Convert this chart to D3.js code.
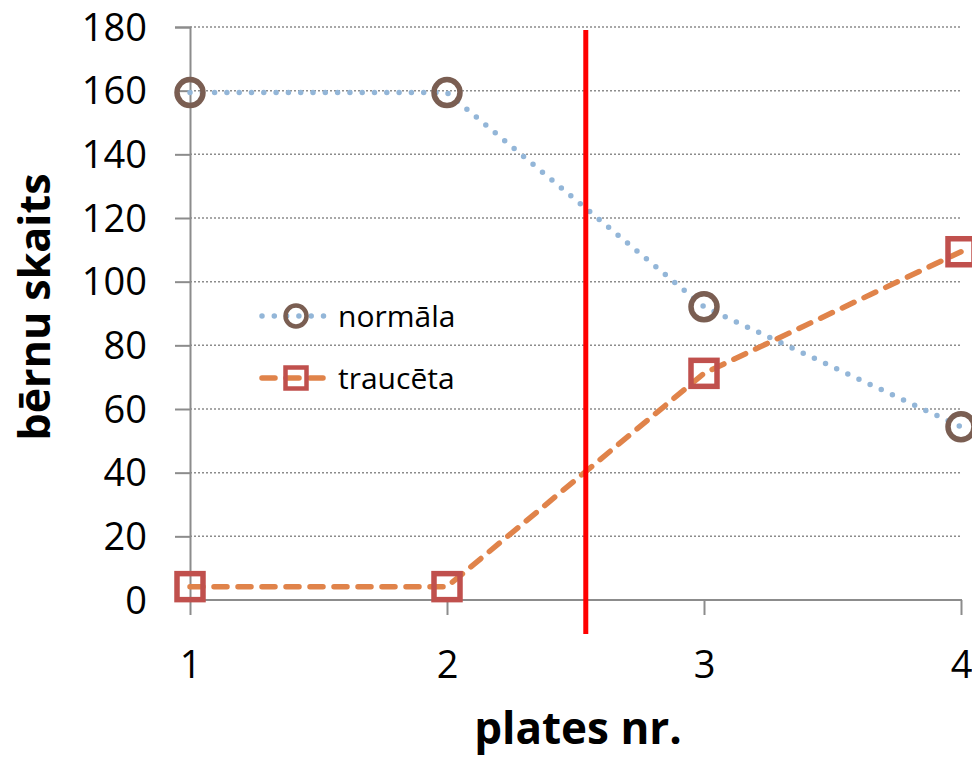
<!DOCTYPE html>
<html>
<head>
<meta charset="utf-8">
<script src="https://cdn.jsdelivr.net/npm/d3@7"></script>
<style>
  body { margin: 0; background: #fff; }
  svg { display: block; font-family: "Open Sans", sans-serif; }
</style>
</head>
<body>
<div id="viz"></div>
<script>
const plates = [1, 2, 3, 4];
const normala = [159.4, 159.4, 92.1, 54.4];
const trauceta = [4.2, 4.2, 71.2, 109.4];
const yTicks = [0, 20, 40, 60, 80, 100, 120, 140, 160, 180];
const cutX = 2.54;

const svg = d3.select("#viz").append("svg")
  .attr("width", 972)
  .attr("height", 757);

const x = d3.scaleLinear().domain([1, 4]).range([190, 961]);
const y = d3.scaleLinear().domain([0, 180]).range([600, 27]);

// gridlines
svg.append("g")
  .selectAll("line")
  .data(yTicks.filter(d => d > 0))
  .enter()
  .append("line")
  .attr("x1", x(1)).attr("x2", 962)
  .attr("y1", d => y(d)).attr("y2", d => y(d))
  .attr("stroke", "#8c8c8c")
  .attr("stroke-width", 1.5)
  .attr("stroke-dasharray", "2 2");

// y axis
const yAxis = svg.append("g")
  .attr("transform", `translate(${x(1)},0)`)
  .call(d3.axisLeft(y).tickValues(yTicks).tickSize(15).tickPadding(28));
yAxis.select(".domain").attr("stroke", "#8c8c8c").attr("stroke-width", 2);
yAxis.selectAll(".tick line").attr("stroke", "#8c8c8c").attr("stroke-width", 2);
yAxis.selectAll(".tick text")
  .attr("font-family", "Open Sans")
  .attr("font-size", 38)
  .attr("fill", "#000")
  .attr("dy", "0.35em");

// x axis
const xAxis = svg.append("g")
  .attr("transform", `translate(0,${y(0)})`)
  .call(d3.axisBottom(x).tickValues(plates).tickFormat(d3.format("d")).tickSize(15).tickPadding(36));
xAxis.select(".domain").attr("stroke", "#8c8c8c").attr("stroke-width", 2)
  .attr("d", `M${x(1)},0H962`);
xAxis.selectAll(".tick line").attr("stroke", "#8c8c8c").attr("stroke-width", 2);
xAxis.selectAll(".tick text")
  .attr("font-family", "Open Sans")
  .attr("font-size", 38)
  .attr("fill", "#000");

// axis titles
svg.append("text")
  .attr("x", 578)
  .attr("y", 744)
  .attr("text-anchor", "middle")
  .attr("font-size", 44)
  .attr("font-weight", "bold")
  .text("plates nr.");

svg.append("text")
  .attr("transform", "translate(50,307) rotate(-90)")
  .attr("text-anchor", "middle")
  .attr("font-size", 43)
  .attr("font-weight", "bold")
  .text("bērnu skaits");

const line = d3.line().x((d, i) => x(plates[i])).y(d => y(d));

// normāla
svg.append("path")
  .datum(normala)
  .attr("d", line)
  .attr("fill", "none")
  .attr("stroke", "#93b6d8")
  .attr("stroke-width", 5.5)
  .attr("stroke-linecap", "round")
  .attr("stroke-dasharray", "0 12.3");

// traucēta
svg.append("path")
  .datum(trauceta)
  .attr("d", line)
  .attr("fill", "none")
  .attr("stroke", "#e0834a")
  .attr("stroke-width", 5.5)
  .attr("stroke-linecap", "round")
  .attr("stroke-dasharray", "13 11");

svg.append("g")
  .selectAll("circle")
  .data(normala)
  .enter()
  .append("circle")
  .attr("cx", (d, i) => x(plates[i]))
  .attr("cy", d => y(d))
  .attr("r", 13)
  .attr("fill", "none")
  .attr("stroke", "#7a5e52")
  .attr("stroke-width", 5.5);

svg.append("g")
  .selectAll("rect")
  .data(trauceta)
  .enter()
  .append("rect")
  .attr("x", (d, i) => x(plates[i]) - 13)
  .attr("y", d => y(d) - 13)
  .attr("width", 26)
  .attr("height", 26)
  .attr("fill", "none")
  .attr("stroke", "#c0504d")
  .attr("stroke-width", 5.5);

// vertical cut line
svg.append("line")
  .attr("x1", x(cutX)).attr("x2", x(cutX))
  .attr("y1", 30).attr("y2", 634)
  .attr("stroke", "#ff0000")
  .attr("stroke-width", 5);

// legend
const legend = svg.append("g");
const rows = [
  {name: "normāla", yPos: 316},
  {name: "traucēta", yPos: 378}
];
legend.append("line")
  .attr("x1", 262).attr("x2", 325)
  .attr("y1", rows[0].yPos).attr("y2", rows[0].yPos)
  .attr("stroke", "#93b6d8").attr("stroke-width", 5.5)
  .attr("stroke-linecap", "round").attr("stroke-dasharray", "0 12.3");
legend.append("circle")
  .attr("cx", 296).attr("cy", rows[0].yPos).attr("r", 10.5)
  .attr("fill", "none").attr("stroke", "#7a5e52").attr("stroke-width", 4.5);
legend.append("line")
  .attr("x1", 262).attr("x2", 324)
  .attr("y1", rows[1].yPos).attr("y2", rows[1].yPos)
  .attr("stroke", "#e0834a").attr("stroke-width", 5.5)
  .attr("stroke-linecap", "round").attr("stroke-dasharray", "13 11");
legend.append("rect")
  .attr("x", 285.5).attr("y", rows[1].yPos - 10.5)
  .attr("width", 21).attr("height", 21)
  .attr("fill", "none").attr("stroke", "#c0504d").attr("stroke-width", 4.5);
legend.selectAll("text")
  .data(rows)
  .enter()
  .append("text")
  .attr("x", 338)
  .attr("y", d => d.yPos + 11)
  .attr("font-size", 30)
  .text(d => d.name);
</script>
</body>
</html>
